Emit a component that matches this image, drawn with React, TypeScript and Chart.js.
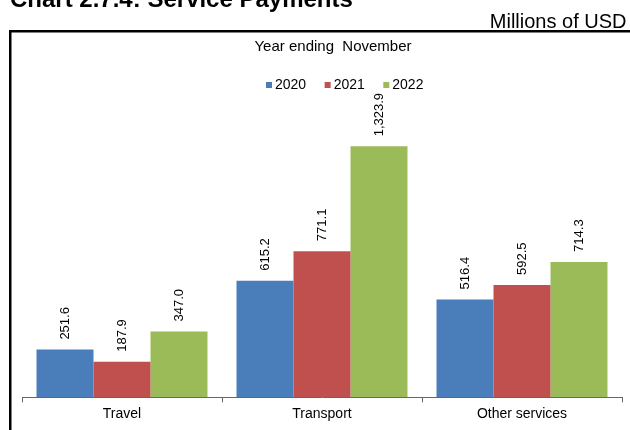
import React, { useEffect, useRef } from "react";
import { Chart, registerables } from "chart.js";

Chart.register(...registerables);

const categories = ["Travel", "Transport", "Other services"];
const years = ["2020", "2021", "2022"];
const values2020 = [251.6, 615.2, 516.4];
const values2021 = [187.9, 771.1, 592.5];
const values2022 = [347.0, 1323.9, 714.3];
const colors = ["#4A7EBB", "#C0504D", "#9BBB59"];

const chartTitle = "Chart 2.7.4: Service Payments";
const unitsLabel = "Millions of USD";
const innerTitle = "Year ending  November";

const FONT = "'Liberation Sans', Arial, Helvetica, sans-serif";

const fmt = (v: number) =>
  v.toLocaleString("en-US", { minimumFractionDigits: 1, maximumFractionDigits: 1 });

const decorPlugin = {
  id: "decor",
  beforeDraw(chart: any) {
    const ctx = chart.ctx;
    ctx.save();
    ctx.fillStyle = "#ffffff";
    ctx.fillRect(0, 0, chart.width, chart.height);

    // outer title (partly clipped at top)
    ctx.fillStyle = "#000";
    ctx.font = `bold 24px ${FONT}`;
    ctx.textAlign = "left";
    ctx.textBaseline = "alphabetic";
    ctx.fillText(chartTitle, 10, 6.5);

    // units
    ctx.font = `20px ${FONT}`;
    ctx.textAlign = "right";
    ctx.fillText(unitsLabel, 626.5, 27.7);

    // box
    ctx.strokeStyle = "#000";
    ctx.lineWidth = 2.5;
    ctx.strokeRect(10.25, 31.25, 700, 500);

    // inner title
    ctx.font = `15px ${FONT}`;
    ctx.textAlign = "center";
    ctx.fillText(innerTitle, 333, 50.7);

    // legend
    ctx.font = `14px ${FONT}`;
    ctx.textAlign = "left";
    let x = 266;
    chart.data.datasets.forEach((ds: any) => {
      ctx.fillStyle = ds.backgroundColor;
      ctx.fillRect(x, 82, 6, 6);
      ctx.fillStyle = "#000";
      ctx.fillText(ds.label, x + 9, 88.7);
      x += 9 + ctx.measureText(ds.label).width + 18.5;
    });
    ctx.restore();
  },
  afterDatasetsDraw(chart: any) {
    const ctx = chart.ctx;
    ctx.save();
    ctx.fillStyle = "#000";
    ctx.font = `13px ${FONT}`;
    ctx.textAlign = "left";
    ctx.textBaseline = "middle";
    chart.data.datasets.forEach((ds: any, di: number) => {
      const meta = chart.getDatasetMeta(di);
      meta.data.forEach((bar: any, i: number) => {
        ctx.save();
        ctx.translate(bar.x, bar.y - 10);
        ctx.rotate(-Math.PI / 2);
        ctx.fillText(fmt(ds.data[i]), 0, 0);
        ctx.restore();
      });
    });
    ctx.restore();
  },
};

export default function App() {
  const ref = useRef<HTMLCanvasElement | null>(null);
  useEffect(() => {
    if (!ref.current) return;
    const series = [values2020, values2021, values2022];
    const chart = new Chart(ref.current, {
      type: "bar",
      data: {
        labels: categories,
        datasets: years.map((y, i) => ({
          label: y,
          data: series[i],
          backgroundColor: colors[i],
          borderWidth: 0,
          categoryPercentage: 0.855,
          barPercentage: 1.0,
        })),
      },
      options: {
        animation: false,
        responsive: false,
        devicePixelRatio: 1,
        layout: { padding: { left: 22, right: 8, top: 94, bottom: 4.9 } },
        plugins: {
          legend: { display: false },
          title: { display: false },
          tooltip: { enabled: false },
        },
        scales: {
          x: {
            grid: {
              display: true,
              drawOnChartArea: false,
              drawTicks: true,
              tickLength: 5,
              color: "#666",
              offset: true,
            },
            border: { display: true, color: "#666", width: 1 },
            ticks: {
              color: "#000",
              padding: 3,
              font: { family: FONT, size: 14 },
            },
          },
          y: {
            display: false,
            min: 0,
            max: 1600,
          },
        },
      },
      plugins: [decorPlugin],
    });
    return () => chart.destroy();
  }, []);
  return (
    <div style={{ position: "fixed", left: 0, top: 0, width: 630, height: 430 }}>
      <canvas ref={ref} width={630} height={430} style={{ width: 630, height: 430, display: "block" }} />
    </div>
  );
}
